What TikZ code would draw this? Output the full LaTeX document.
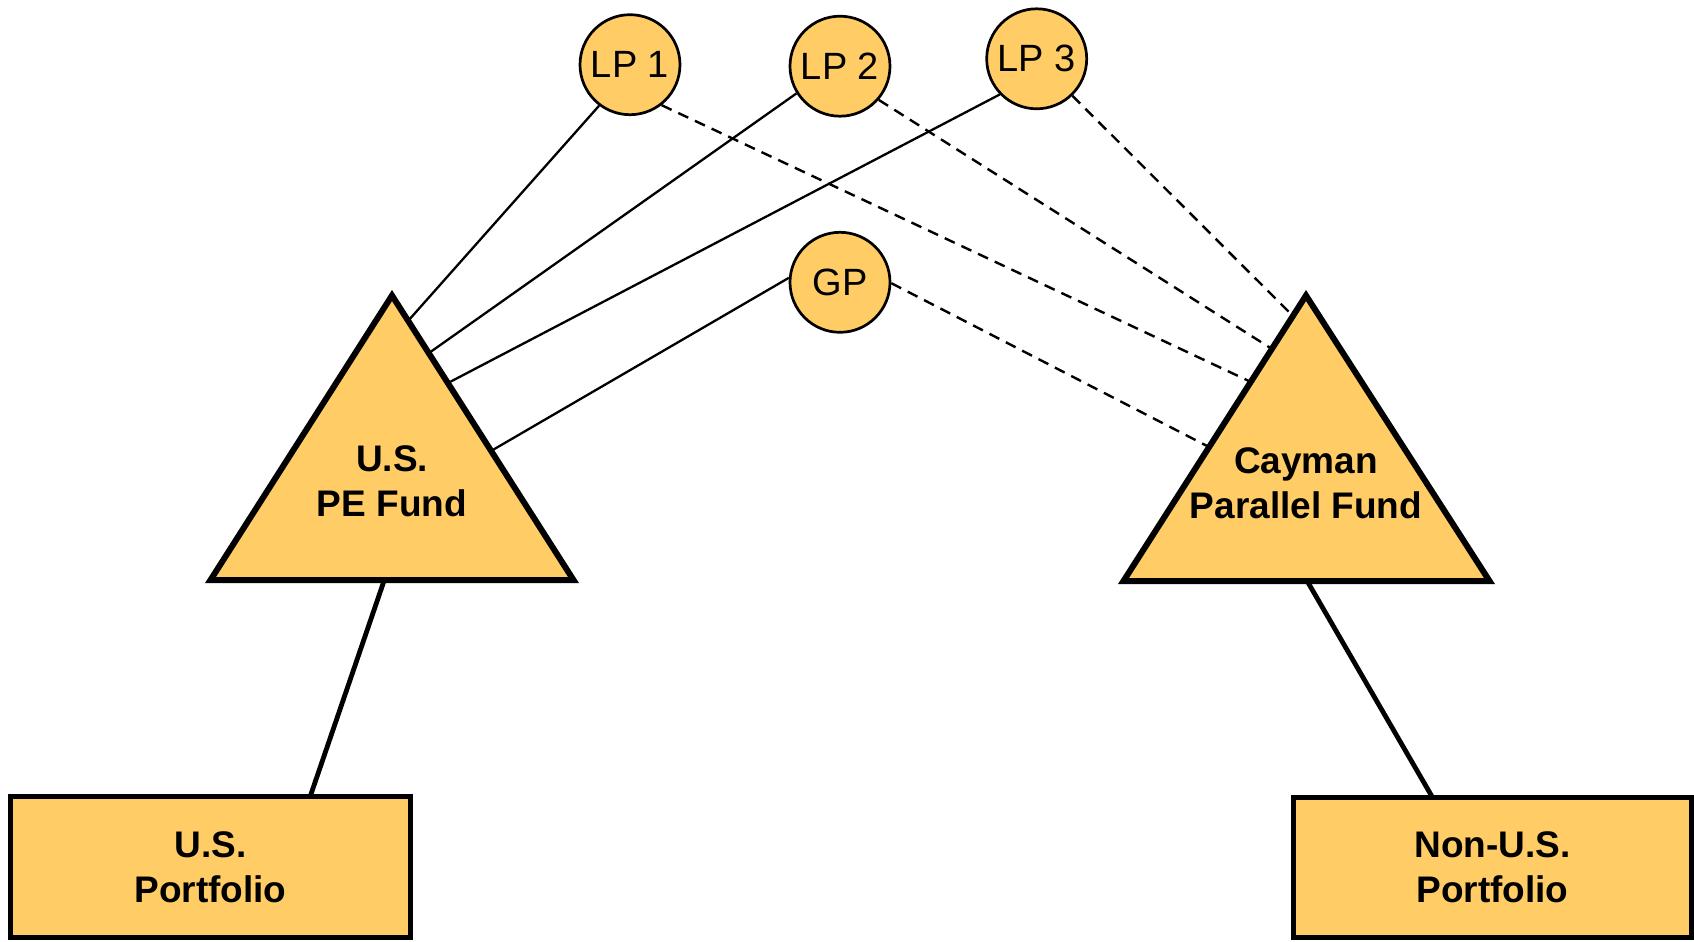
\documentclass[tikz,border=0pt]{standalone}
\usepackage{fontspec}
\setmainfont{Liberation Sans}
\usetikzlibrary{backgrounds}
\definecolor{fundfill}{HTML}{FFCC66}
\begin{document}
\begin{tikzpicture}[x=0.5pt,y=-0.5pt,
  tri/.style={draw=black,line width=3pt,fill=fundfill,line join=miter},
  boxst/.style={rectangle,draw=black,line width=2.5pt,fill=fundfill,inner sep=0pt,align=center,font=\bfseries\fontsize{18.5}{22.5}\selectfont},
  party/.style={circle,draw=black,line width=1.35pt,fill=fundfill,minimum size=50pt,inner sep=0pt,font=\fontsize{19}{23}\selectfont},
  lbl/.style={align=center,font=\bfseries\fontsize{18.5}{22.5}\selectfont,inner sep=0pt},
  own/.style={draw=black,line width=1.15pt},
  par/.style={draw=black,line width=1.2pt,dash pattern=on 5.5pt off 3.7pt},
  hold/.style={draw=black,line width=2.4pt}]
\useasboundingbox (0,0) rectangle (1694,942);

% funds
\draw[tri] (210.5,580) -- (573.5,580) -- (392,295.5) -- cycle;
\node[lbl] (usfund) at (392,481) {U.S.\\PE Fund};
\draw[tri] (1123.5,581) -- (1489.5,581) -- (1306,295.5) -- cycle;
\node[lbl] (cayfund) at (1306,483.5) {Cayman\\Parallel Fund};

% portfolios
\node[boxst,minimum width=200pt,minimum height=70.5pt] (usport) at (210.5,867) {U.S.\\Portfolio};
\node[boxst,minimum width=199pt,minimum height=70pt] (nonusport) at (1492.5,867.5) {Non-U.S.\\Portfolio};

% partners
\node[party] (lp1) at (630,64.7) {LP 1};
\node[party] (lp2) at (840,66.2) {LP 2};
\node[party] (lp3) at (1036.7,58.8) {LP 3};
\node[party] (gp) at (840,282.3) {GP};

% attachment points
\coordinate (u1) at (408,321);
\coordinate (u2) at (429,353);
\coordinate (u3) at (448,383);
\coordinate (ug) at (491,451);
\coordinate (c1) at (1251,382);
\coordinate (c2) at (1272,349);
\coordinate (c3) at (1293,316);
\coordinate (cg) at (1209,447);
\coordinate (usbase) at (385,578);
\coordinate (usporttop) at (309,800);
\coordinate (caybase) at (1306,579);
\coordinate (nonustop) at (1434,800);

\begin{scope}[on background layer]
\draw[own] (lp1.233) -- (u1);
\draw[own] (lp2.212.6) -- (u2);
\draw[own] (lp3.224) -- (u3);
\draw[own] (gp.175) -- (ug);
\draw[par] (lp1.-52.5) -- (c1);
\draw[par] (lp2.-41) -- (c2);
\draw[par] (lp3.-46.6) -- (c3);
\draw[par] (gp.-1) -- (cg);
\draw[hold] (usbase) -- (usporttop);
\draw[hold] (caybase) -- (nonustop);
\end{scope}
\end{tikzpicture}
\end{document}
